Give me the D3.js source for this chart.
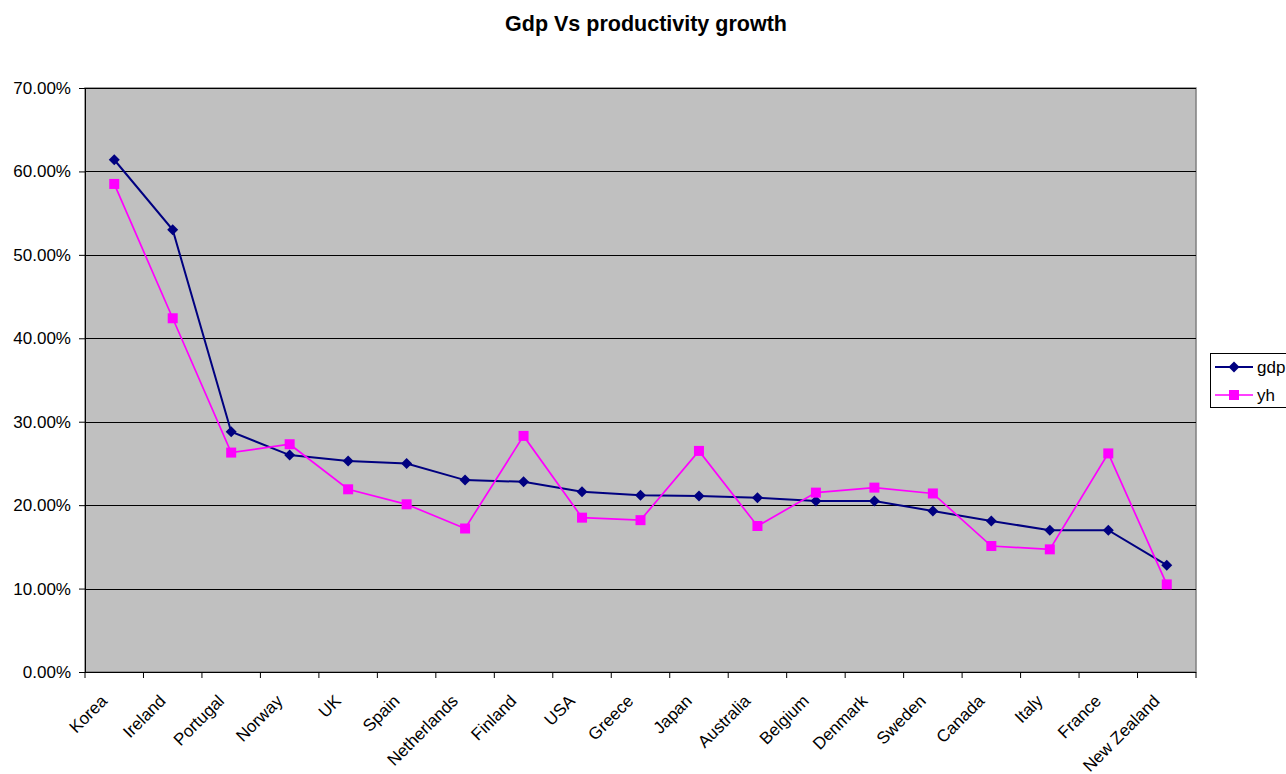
<!DOCTYPE html>
<html lang="en">
<head>
<meta charset="UTF-8">
<title>Gdp Vs productivity growth</title>
<script src="https://d3js.org/d3.v7.min.js"></script>
<style>
  body { margin: 0; background: #fff; }
  svg { display: block; font-family: "Liberation Sans", Arial, sans-serif; }
</style>
</head>
<body>
<svg id="chart" width="1286" height="774"></svg>
<script>
// data (fractions)
const countries = ["Korea", "Ireland", "Portugal", "Norway", "UK", "Spain", "Netherlands", "Finland", "USA",
  "Greece", "Japan", "Australia", "Belgium", "Denmark", "Sweden", "Canada", "Italy", "France", "New Zealand"];
const gdp = [0.614, 0.530, 0.288, 0.260, 0.253, 0.250, 0.230, 0.228, 0.216,
  0.212, 0.211, 0.209, 0.205, 0.205, 0.193, 0.181, 0.170, 0.170, 0.128];
const yh = [0.585, 0.424, 0.263, 0.273, 0.219, 0.201, 0.172, 0.283, 0.185,
  0.182, 0.265, 0.175, 0.215, 0.221, 0.214, 0.151, 0.147, 0.262, 0.105];
const yTicks = [0, 0.1, 0.2, 0.3, 0.4, 0.5, 0.6, 0.7];

const svg = d3.select("#chart");
const plotL = 85, plotR = 1196, plotT = 88, plotB = 672;

const x = d3.scaleBand().domain(countries).range([plotL, plotR]);
const y = d3.scaleLinear().domain([0, 0.7]).range([plotB, plotT]);
const cx = d => x(d) + x.bandwidth() / 2;

// plot area
svg.append("rect")
  .attr("x", plotL).attr("y", plotT)
  .attr("width", plotR - plotL).attr("height", plotB - plotT)
  .attr("fill", "#c0c0c0").attr("stroke", "#808080").attr("stroke-width", 1.5);

// gridlines
svg.selectAll(".grid").data(yTicks.filter(d => d > 0)).enter().append("line")
  .attr("x1", plotL).attr("x2", plotR)
  .attr("y1", d => Math.round(y(d)) + 0.5).attr("y2", d => Math.round(y(d)) + 0.5)
  .attr("stroke", "#000").attr("stroke-width", 1);

// y axis
const yAxis = svg.append("g").attr("transform", `translate(${plotL},0)`)
  .call(d3.axisLeft(y).tickValues(yTicks).tickSize(6).tickPadding(8)
    .tickFormat(d => (d * 100).toFixed(2) + "%"));
yAxis.select(".domain").attr("stroke", "#000");
yAxis.selectAll("text").attr("font-size", 17).attr("fill", "#000")
  .attr("font-family", "Liberation Sans, Arial, sans-serif");

// x axis: ticks at band boundaries
const xg = svg.append("g");
xg.append("line").attr("x1", plotL).attr("x2", plotR)
  .attr("y1", plotB + 0.5).attr("y2", plotB + 0.5).attr("stroke", "#000");
xg.selectAll(".xt").data(d3.range(countries.length + 1)).enter().append("line")
  .attr("x1", i => plotL + i * x.bandwidth()).attr("x2", i => plotL + i * x.bandwidth())
  .attr("y1", plotB).attr("y2", plotB + 6).attr("stroke", "#000");
xg.selectAll(".xl").data(countries).enter().append("text")
  .attr("transform", d => `translate(${cx(d) - 6},${plotB + 30}) rotate(-45)`)
  .attr("text-anchor", "end")
  .attr("font-size", 17)
  .text(d => d);

// series (gdp first, yh on top)
const line = d3.line().x((d, i) => cx(countries[i])).y(d => y(d));
const diamond = "M0,-5.5L5.5,0L0,5.5L-5.5,0Z";

svg.append("path").datum(gdp).attr("d", line)
  .attr("fill", "none").attr("stroke", "#000080").attr("stroke-width", 2);
svg.selectAll(".gdp").data(gdp).enter().append("path")
  .attr("d", diamond)
  .attr("transform", (d, i) => `translate(${cx(countries[i])},${y(d)})`)
  .attr("fill", "#000080");

svg.append("path").datum(yh).attr("d", line)
  .attr("fill", "none").attr("stroke", "#ff00ff").attr("stroke-width", 1.7);
svg.selectAll(".yh").data(yh).enter().append("rect")
  .attr("x", (d, i) => cx(countries[i]) - 5)
  .attr("y", d => y(d) - 5)
  .attr("width", 10).attr("height", 10).attr("fill", "#ff00ff");

// title
svg.append("text").attr("x", 646).attr("y", 31).attr("text-anchor", "middle")
  .attr("font-size", 21.5).attr("font-weight", "bold").text("Gdp Vs productivity growth");

// legend
const lg = svg.append("g").attr("transform", "translate(1210,353)");
lg.append("rect").attr("x", 0.5).attr("y", 0.5).attr("width", 90).attr("height", 54)
  .attr("fill", "#fff").attr("stroke", "#000");
const legendItems = [
  { name: "gdp", color: "#000080", shape: "diamond", w: 2 },
  { name: "yh", color: "#ff00ff", shape: "square", w: 1.7 }
];
legendItems.forEach((it, i) => {
  const ly = 14 + i * 28;
  lg.append("line").attr("x1", 5).attr("x2", 43).attr("y1", ly).attr("y2", ly)
    .attr("stroke", it.color).attr("stroke-width", it.w);
  if (it.shape === "diamond") {
    lg.append("path").attr("d", diamond).attr("transform", `translate(24,${ly})`).attr("fill", it.color);
  } else {
    lg.append("rect").attr("x", 19).attr("y", ly - 5).attr("width", 10).attr("height", 10).attr("fill", it.color);
  }
  lg.append("text").attr("x", 47).attr("y", ly + 6).attr("font-size", 17).text(it.name);
});
</script>
</body>
</html>
